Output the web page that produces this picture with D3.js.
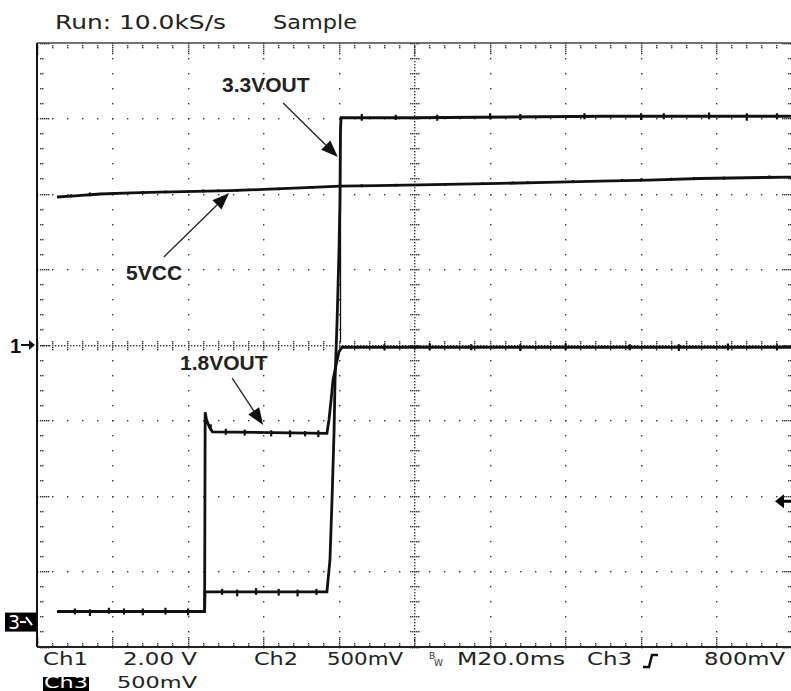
<!DOCTYPE html>
<html><head><meta charset="utf-8">
<script src="https://cdn.jsdelivr.net/npm/d3@7"></script>
<style>html,body{margin:0;padding:0;background:#fff;overflow:hidden}</style>
</head><body>
<svg id="c" width="791" height="691"></svg>
<script>
// ---------------- DATA (time in ms, values in volts) ----------------
const timeDomain = [-100, 100];          // 20 ms/div, 10 divisions
const divDomain = [-4, 4];               // 8 vertical divisions
const ch1 = {scale: 2.0, offsetDiv: 0};      // Ch1 2.00 V/div
const ch2 = {scale: 0.5, offsetDiv: -3.67};  // Ch2 500 mV/div
const ch3 = {scale: 0.5, offsetDiv: -3.67};  // Ch3 500 mV/div
const triggerLevel = 0.8;                    // Ch3 800 mV

const vcc5 = [[-94.7,3.92],[-90,3.95],[-83.3,4.0],[-75,4.03],[-67.4,4.05],[-58,4.07],[-48.9,4.09],[-40,4.12],[-30.3,4.16],[-19.7,4.21],[-10,4.22],[1.5,4.24],[12,4.26],[22.7,4.28],[35,4.31],[49.1,4.34],[62,4.37],[75.6,4.41],[88,4.43],[100,4.45]];
const vout33 = [[-94.7,0.07],[-75,0.07],[-55.6,0.07],[-55.5,0.2],[-40,0.2],[-23.2,0.2],[-22.4,0.41],[-21.85,0.81],[-21.3,1.27],[-21.05,1.6],[-20.5,2.0],[-20.0,2.46],[-19.75,2.79],[-19.6,3.26],[-19.45,3.34],[0,3.34],[50,3.35],[100,3.35]];
const vout18 = [[-94.7,0.07],[-55.6,0.07],[-55.45,1.39],[-55.1,1.34],[-54.3,1.29],[-53.5,1.26],[-23.2,1.25],[-22.65,1.34],[-22.1,1.47],[-21.6,1.6],[-20.8,1.7],[-20.0,1.79],[-19.2,1.82],[100,1.82]];

// noise glitches: [time, low V, high V]
const vcc5Glitch = [[-91,3.91,3.99],[-86,3.94,4.04],[-80,3.98,4.05],[-72,4.0,4.08],[-66,4.02,4.09],[-60,4.04,4.1],[-56,4.04,4.12],[-52,4.05,4.12],[-47,4.06,4.13],[-44,4.08,4.14],[-36,4.1,4.17],[-27,4.14,4.21],[-14,4.18,4.26],[-5,4.2,4.27],[8,4.22,4.29],[18,4.24,4.31],[26,4.26,4.33],[30,4.27,4.34],[42,4.29,4.37],[55,4.32,4.4],[60,4.33,4.41],[68,4.35,4.43],[74,4.37,4.45],[82,4.38,4.46],[94,4.41,4.49]];
const vout33Glitch = [[-90,0.05,0.09],[-86,0.04,0.085],[-81,0.055,0.095],[-77,0.05,0.09],[-72,0.045,0.09],[-66,0.05,0.095],[-60,0.045,0.09],[-51,0.18,0.22],[-47,0.17,0.215],[-42,0.18,0.225],[-36,0.175,0.22],[-31,0.17,0.215],[-26,0.18,0.22],[-14,3.32,3.365],[-5,3.325,3.36],[6,3.32,3.36],[20,3.33,3.37],[28,3.325,3.365],[45,3.33,3.37],[60,3.325,3.37],[66,3.33,3.37],[78,3.33,3.375],[88,3.32,3.37],[96,3.33,3.37]];
const vout18Glitch = [[-54,1.27,1.31],[-50,1.24,1.28],[-45,1.235,1.275],[-38,1.23,1.27],[-33,1.225,1.27],[-29,1.23,1.265],[-25.5,1.225,1.27],[-8,1.8,1.84],[4,1.8,1.845],[15,1.8,1.84],[28,1.795,1.84],[40,1.8,1.845],[57,1.8,1.84],[70,1.795,1.84],[83,1.8,1.845],[96,1.8,1.84]];

const headerTexts = [{t:"Run: 10.0kS/s", x:55, w:171},{t:"Sample", x:273, w:84}];
const footerTexts = [{t:"Ch1",x:43,w:45},{t:"2.00 V",x:123,w:74},{t:"Ch2",x:254,w:44},{t:"500mV",x:327,w:76},{t:"M20.0ms",x:457,w:108},{t:"Ch3",x:587,w:45},{t:"800mV",x:704,w:81}];
const footerTexts2 = [{t:"500mV",x:117,w:80}];

// annotations: label position and arrow (time ms, divisions)
const annotations = [
  {text:"3.3VOUT", t:-51.0, d:3.351, from:[-34.8,3.205], to:[-20.3,2.49]},
  {text:"5VCC", t:-76.4, d:0.861, from:[-66.4,1.166], to:[-49.1,2.013]},
  {text:"1.8VOUT", t:-62.1, d:-0.331, from:[-48.3,-0.44], to:[-40.1,-1.06]}
];

// ---------------- DRAW ----------------
const svg = d3.select("#c");
const L=37, R=792, T=43, B=647;
const x = d3.scaleLinear().domain(timeDomain).range([L,R]);
const yDiv = d3.scaleLinear().domain(divDomain).range([B,T]);
const chY = ch => d3.scaleLinear().domain([0, ch.scale]).range([yDiv(ch.offsetDiv), yDiv(ch.offsetDiv+1)]);
const y1 = chY(ch1), y2 = chY(ch2), y3 = chY(ch3);

const minorX = d3.range(0, 51).map(i => -100 + i*4);
const minorY = d3.range(0, 41).map(i => -4 + i*0.2);
const majorX = d3.range(-80, 81, 20);
const majorY = d3.range(-3, 4, 1);
const dots = [];
majorY.forEach(d => { if (d!==0) minorX.forEach(t => dots.push([x(t), yDiv(d)])); });
majorX.forEach(t => { if (t!==0) minorY.forEach(d => dots.push([x(t), yDiv(d)])); });
// center lines dense
d3.range(0, 251).forEach(i => dots.push([x(-100 + i*0.8), yDiv(0)]));
d3.range(0, 201).forEach(i => dots.push([x(0), yDiv(-4 + i*0.04)]));
minorX.forEach(t => [-4,-2,2,4].forEach(o => dots.push([x(t), yDiv(0)+o])));
minorY.forEach(d => [-4,-2,2,4].forEach(o => dots.push([x(0)+o, yDiv(d)])));
// border ticks
minorX.forEach((t,i) => {
  const n = (i%5===0) ? 5 : 2;
  for (let k=1;k<=n;k++){ dots.push([x(t), T+k*2]); dots.push([x(t), B-k*2]); }
});
minorY.forEach((d,i) => {
  const n = (i%5===0) ? 5 : 2;
  for (let k=1;k<=n;k++){ dots.push([L+1+k*2, yDiv(d)]); dots.push([R-k*2, yDiv(d)]); }
});
svg.append("g").selectAll("rect").data(dots).join("rect")
  .attr("x", d => Math.round(d[0]-0.5)).attr("y", d => Math.round(d[1]-0.5))
  .attr("width",1.4).attr("height",1.4).attr("fill","#333");

// borders
svg.append("line").attr("x1",L).attr("x2",R).attr("y1",T).attr("y2",T).attr("stroke","#444").attr("stroke-width",1.5);
svg.append("line").attr("x1",L).attr("x2",R).attr("y1",B).attr("y2",B).attr("stroke","#222").attr("stroke-width",2);
svg.append("line").attr("x1",L).attr("x2",L).attr("y1",T).attr("y2",B).attr("stroke","#111").attr("stroke-width",2);

// traces
const line = ys => d3.line().x(d => x(d[0])).y(d => ys(d[1]));
const traces = [[vcc5,y1,vcc5Glitch],[vout33,y3,vout33Glitch],[vout18,y2,vout18Glitch]];
traces.forEach(([data, ys, gl]) => {
  svg.append("path").datum(data).attr("d", line(ys)).attr("fill","none")
    .attr("stroke","#111").attr("stroke-width",2.8).attr("stroke-linejoin","miter");
  svg.append("g").selectAll("rect").data(gl).join("rect")
    .attr("x", d => x(d[0])-1).attr("width", 2.2)
    .attr("y", d => ys(d[2])).attr("height", d => ys(d[1]) - ys(d[2])).attr("fill","#111");
});
// thin vertical connector of 3.3VOUT rise
svg.append("line").attr("x1", x(-19.6)).attr("x2", x(-19.6)).attr("y1", y3(3.34)).attr("y2", y3(1.85))
  .attr("stroke","#111").attr("stroke-width",1.3);

// annotations
const ann = svg.append("g");
annotations.forEach(a => {
  ann.append("text").attr("x", x(a.t)).attr("y", yDiv(a.d)).text(a.text)
    .attr("font-family","Liberation Sans, Arial, sans-serif").attr("font-weight","bold")
    .attr("font-size",21).attr("fill","#222");
  const x0=x(a.from[0]), y0=yDiv(a.from[1]), xe=x(a.to[0]), ye=yDiv(a.to[1]);
  const ang = Math.atan2(ye-y0, xe-x0), hl=17, hw=6.5;
  const bx = xe - hl*Math.cos(ang), by = ye - hl*Math.sin(ang);
  ann.append("line").attr("x1",x0).attr("y1",y0).attr("x2",bx).attr("y2",by).attr("stroke","#222").attr("stroke-width",1.3);
  const px = -Math.sin(ang), py = Math.cos(ang);
  ann.append("path").attr("d", `M${xe},${ye}L${bx+px*hw},${by+py*hw}L${bx-px*hw},${by-py*hw}Z`).attr("fill","#111");
});

// channel markers
const font = "DejaVu Sans, Verdana, sans-serif";
svg.append("text").attr("x",10).attr("y",yDiv(0)+7.5).text("1").attr("font-family","Liberation Sans, Arial").attr("font-weight","bold").attr("font-size",20).attr("fill","#111");
svg.append("line").attr("x1",21).attr("x2",30).attr("y1",yDiv(0)).attr("y2",yDiv(0)).attr("stroke","#111").attr("stroke-width",2);
svg.append("path").attr("d",`M35,${yDiv(0)}L29,${yDiv(0)-5}L29,${yDiv(0)+5}Z`).attr("fill","#111");
const g3 = y3(0);
svg.append("rect").attr("x",5).attr("y",g3-9.5).attr("width",31).attr("height",19).attr("fill","#000");
svg.append("text").attr("x",8).attr("y",g3+7).text("3").attr("font-family",font).attr("font-size",19).attr("fill","#fff");
svg.append("line").attr("x1",20).attr("x2",26).attr("y1",g3).attr("y2",g3).attr("stroke","#fff").attr("stroke-width",2);
svg.append("path").attr("d",`M26,${g3-5}L32,${g3+3}`).attr("stroke","#fff").attr("stroke-width",2);
// trigger level arrow (right)
const tl = y3(triggerLevel);
svg.append("path").attr("d",`M775,${tl}L784,${tl-7}L784,${tl+7}Z`).attr("fill","#000");
svg.append("line").attr("x1",783).attr("x2",791).attr("y1",tl).attr("y2",tl).attr("stroke","#000").attr("stroke-width",3);

// header / footer text
svg.append("g").selectAll("text").data(headerTexts).join("text")
  .attr("x", d=>d.x).attr("y",29).attr("textLength", d=>d.w).attr("lengthAdjust","spacingAndGlyphs")
  .text(d=>d.t).attr("font-family",font).attr("font-size",19).attr("fill","#222");
svg.append("g").selectAll("text").data(footerTexts).join("text")
  .attr("x", d=>d.x).attr("y",665).attr("textLength", d=>d.w).attr("lengthAdjust","spacingAndGlyphs")
  .text(d=>d.t).attr("font-family",font).attr("font-size",17).attr("fill","#222");
svg.append("rect").attr("x",43).attr("y",677).attr("width",46).attr("height",14).attr("fill","#000");
svg.append("text").attr("x",44).attr("y",688).attr("textLength",44).attr("lengthAdjust","spacingAndGlyphs")
  .text("Ch3").attr("font-family",font).attr("font-size",15).attr("fill","#fff");
svg.append("g").selectAll("text").data(footerTexts2).join("text")
  .attr("x", d=>d.x).attr("y",688).attr("textLength", d=>d.w).attr("lengthAdjust","spacingAndGlyphs")
  .text(d=>d.t).attr("font-family",font).attr("font-size",15).attr("fill","#222");
// BW symbol
svg.append("text").attr("x",429).attr("y",659).text("B").attr("font-family",font).attr("font-size",9).attr("fill","#333");
svg.append("text").attr("x",434).attr("y",666).text("W").attr("font-family",font).attr("font-size",9).attr("fill","#333");
// trigger slope symbol
svg.append("path").attr("d","M643,667L649,667L652,655L658,655").attr("fill","none").attr("stroke","#111").attr("stroke-width",2.5);
</script>
</body></html>
